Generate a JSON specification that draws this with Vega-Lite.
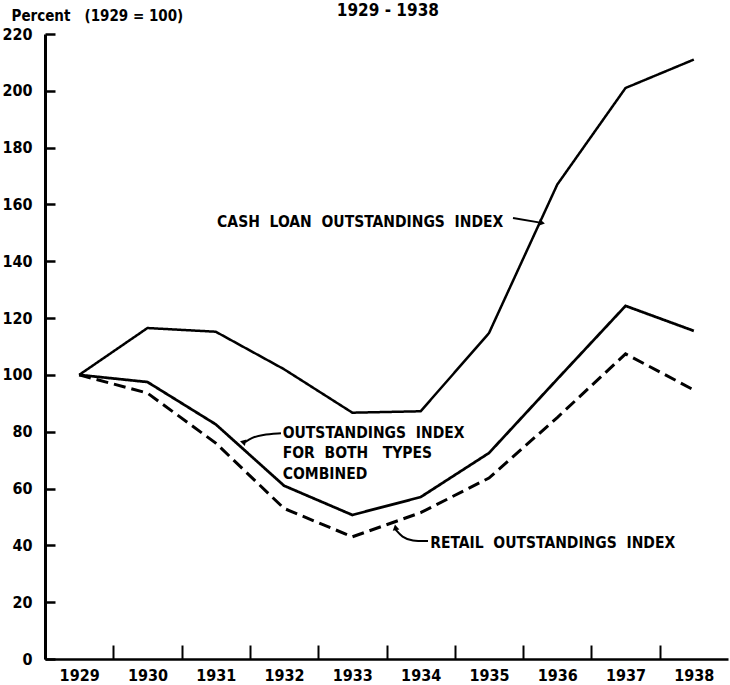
{
  "$schema": "https://vega.github.io/schema/vega-lite/v6.json",
  "width": 683,
  "height": 625,
  "autosize": {"type": "none"},
  "padding": {"left": 45, "top": 34, "right": 2, "bottom": 26},
  "background": "white",
  "config": {
    "view": {"stroke": null},
    "font": "DejaVu Sans Condensed",
    "axis": {"domainColor": "black", "tickColor": "black", "labelColor": "black", "titleColor": "black", "grid": false, "labelFont": "DejaVu Sans Condensed", "labelFontWeight": "bold", "labelFontSize": 16, "titleFont": "DejaVu Sans Condensed", "titleFontWeight": "bold", "titleFontSize": 15}
  },
  "datasets": {
    "series": [
      {"series": "Cash loan outstandings index", "year": 1929, "value": 100},
      {"series": "Cash loan outstandings index", "year": 1930, "value": 116.5},
      {"series": "Cash loan outstandings index", "year": 1931, "value": 115.2},
      {"series": "Cash loan outstandings index", "year": 1932, "value": 102},
      {"series": "Cash loan outstandings index", "year": 1933, "value": 86.7},
      {"series": "Cash loan outstandings index", "year": 1934, "value": 87.2},
      {"series": "Cash loan outstandings index", "year": 1935, "value": 114.7},
      {"series": "Cash loan outstandings index", "year": 1936, "value": 167},
      {"series": "Cash loan outstandings index", "year": 1937, "value": 201},
      {"series": "Cash loan outstandings index", "year": 1938, "value": 211},
      {"series": "Outstandings index for both types combined", "year": 1929, "value": 100},
      {"series": "Outstandings index for both types combined", "year": 1930, "value": 97.5},
      {"series": "Outstandings index for both types combined", "year": 1931, "value": 82.6},
      {"series": "Outstandings index for both types combined", "year": 1932, "value": 61},
      {"series": "Outstandings index for both types combined", "year": 1933, "value": 50.7},
      {"series": "Outstandings index for both types combined", "year": 1934, "value": 57},
      {"series": "Outstandings index for both types combined", "year": 1935, "value": 72.5},
      {"series": "Outstandings index for both types combined", "year": 1936, "value": 98.5},
      {"series": "Outstandings index for both types combined", "year": 1937, "value": 124.3},
      {"series": "Outstandings index for both types combined", "year": 1938, "value": 115.5},
      {"series": "Retail outstandings index", "year": 1929, "value": 100},
      {"series": "Retail outstandings index", "year": 1930, "value": 93.6},
      {"series": "Retail outstandings index", "year": 1931, "value": 76},
      {"series": "Retail outstandings index", "year": 1932, "value": 53},
      {"series": "Retail outstandings index", "year": 1933, "value": 43},
      {"series": "Retail outstandings index", "year": 1934, "value": 51.5},
      {"series": "Retail outstandings index", "year": 1935, "value": 63.7},
      {"series": "Retail outstandings index", "year": 1936, "value": 85},
      {"series": "Retail outstandings index", "year": 1937, "value": 107.4},
      {"series": "Retail outstandings index", "year": 1938, "value": 94.7}
    ],
    "notes": [
      {"note": "CASH\u00a0 LOAN\u00a0 OUTSTANDINGS\u00a0 INDEX", "year": 1931.02, "value": 152.1},
      {"note": "OUTSTANDINGS\u00a0 INDEX|FOR\u00a0 BOTH\u00a0\u00a0 TYPES|COMBINED", "year": 1931.98, "value": 77.8},
      {"note": "RETAIL\u00a0 OUTSTANDINGS\u00a0 INDEX", "year": 1934.14, "value": 39.1}
    ],
    "heading": [
      {"heading": "1929 - 1938", "year": 1933.52, "value": 226.5}
    ],
    "arrows": [
      {"arrow": "cash", "step": 1, "year": 1935.352, "value": 155.2},
      {"arrow": "cash", "step": 2, "year": 1935.75, "value": 153.6},
      {"arrow": "combined", "step": 1, "year": 1931.955, "value": 79.5},
      {"arrow": "combined", "step": 2, "year": 1931.677, "value": 79.0},
      {"arrow": "combined", "step": 3, "year": 1931.516, "value": 77.8},
      {"arrow": "combined", "step": 4, "year": 1931.43, "value": 76.3},
      {"arrow": "retail", "step": 1, "year": 1934.108, "value": 41.5},
      {"arrow": "retail", "step": 2, "year": 1933.873, "value": 41.5},
      {"arrow": "retail", "step": 3, "year": 1933.727, "value": 42.9},
      {"arrow": "retail", "step": 4, "year": 1933.635, "value": 45.5}
    ],
    "heads": [
      {"arrow": "cash", "year": 1935.777, "value": 153.5},
      {"arrow": "combined", "year": 1931.414, "value": 76.0},
      {"arrow": "retail", "year": 1933.624, "value": 45.8}
    ]
  },
  "layer": [
    {
      "mark": {"type": "rule", "color": "black", "strokeWidth": 2},
      "encoding": {"y": {"datum": 220, "type": "quantitative"}}
    },
    {
      "data": {"name": "series"},
      "mark": {"type": "line", "color": "black", "strokeCap": "butt", "strokeJoin": "miter"},
      "encoding": {
        "x": {
          "field": "year", "type": "quantitative",
          "scale": {"domain": [1928.5, 1938.5], "nice": false, "zero": false},
          "axis": {"values": [1929, 1930, 1931, 1932, 1933, 1934, 1935, 1936, 1937, 1938], "format": "d", "title": null, "tickOffset": -34.15, "labelOffset": 34.15, "tickSize": -14, "tickWidth": 2, "labelPadding": 22, "domainWidth": 2.5}
        },
        "y": {
          "field": "value", "type": "quantitative",
          "scale": {"domain": [0, 220], "nice": false, "zero": true},
          "axis": {"values": [0, 20, 40, 60, 80, 100, 120, 140, 160, 180, 200, 220], "title": "Percent\u00a0\u00a0 (1929 = 100)", "titleAngle": 0, "titleAlign": "left", "titleBaseline": "alphabetic", "titleX": -34, "titleY": -14, "tickSize": -10, "tickWidth": 2.5, "labelPadding": 23, "domainWidth": 3}
        },
        "detail": {"field": "series", "type": "nominal"},
        "strokeDash": {"field": "series", "type": "nominal", "scale": {"domain": ["Cash loan outstandings index", "Outstandings index for both types combined", "Retail outstandings index"], "range": [[1, 0], [1, 0], [12, 6]]}, "legend": null},
        "strokeWidth": {"field": "series", "type": "nominal", "scale": {"domain": ["Cash loan outstandings index", "Outstandings index for both types combined", "Retail outstandings index"], "range": [2.5, 3, 2.8]}, "legend": null}
      }
    },
    {
      "data": {"name": "arrows"},
      "mark": {"type": "line", "color": "black", "strokeWidth": 2, "interpolate": "basis"},
      "encoding": {
        "x": {"field": "year", "type": "quantitative"},
        "y": {"field": "value", "type": "quantitative"},
        "detail": {"field": "arrow", "type": "nominal"},
        "order": {"field": "step", "type": "quantitative"}
      }
    },
    {
      "data": {"name": "heads"},
      "mark": {"type": "point", "shape": "triangle-right", "filled": true, "color": "black", "size": 45, "opacity": 1},
      "encoding": {
        "x": {"field": "year", "type": "quantitative"},
        "y": {"field": "value", "type": "quantitative"},
        "angle": {"field": "arrow", "type": "nominal", "scale": {"domain": ["cash", "combined", "retail"], "range": [10, 139, 221]}, "legend": null}
      }
    },
    {
      "data": {"name": "notes"},
      "mark": {"type": "text", "align": "left", "baseline": "alphabetic", "font": "DejaVu Sans Condensed", "fontWeight": "bold", "fontSize": 15.5, "lineBreak": "|", "lineHeight": 20.5, "color": "black"},
      "encoding": {
        "x": {"field": "year", "type": "quantitative"},
        "y": {"field": "value", "type": "quantitative"},
        "text": {"field": "note", "type": "nominal"}
      }
    },
    {
      "data": {"name": "heading"},
      "mark": {"type": "text", "align": "center", "baseline": "alphabetic", "font": "DejaVu Sans Condensed", "fontWeight": "bold", "fontSize": 17, "color": "black", "clip": false},
      "encoding": {
        "x": {"field": "year", "type": "quantitative"},
        "y": {"field": "value", "type": "quantitative"},
        "text": {"field": "heading", "type": "nominal"}
      }
    }
  ]
}
